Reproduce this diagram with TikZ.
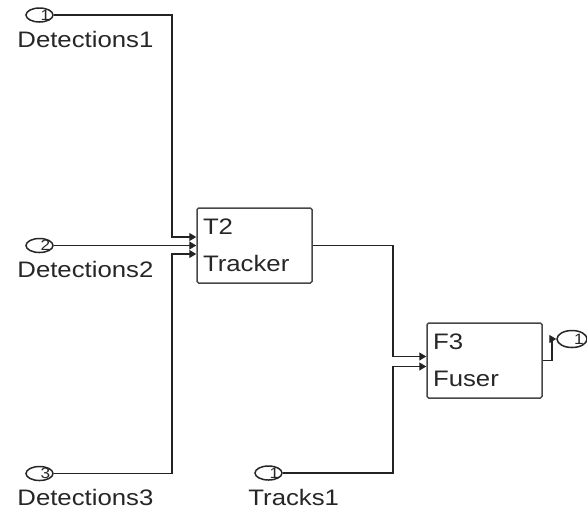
\documentclass[tikz,border=0pt]{standalone}
\usepackage{fontspec}
\setmainfont{Liberation Sans}[FakeStretch=1.15]
\usetikzlibrary{shapes.geometric, arrows.meta, positioning, calc}
\definecolor{wirec}{RGB}{35,35,35}
\definecolor{edgec}{RGB}{70,70,70}
\tikzset{
  block/.style={rectangle, rounded corners=0.8pt, draw=edgec, line width=0.75pt,
    minimum width=57.5pt, minimum height=37.5pt, text width=51.5pt,
    inner xsep=3pt, align=left, text=black!85,
    font=\fontsize{11.2pt}{18.5pt}\selectfont},
  inport/.style={ellipse, draw=black!85, line width=0.75pt, inner sep=0pt,
    minimum width=13.5pt, minimum height=7pt},
  outport/.style={inport, minimum width=15pt, minimum height=8.5pt},
  portnum/.style={inner sep=0pt, text=black!85, font=\fontsize{7.5pt}{8pt}\selectfont},
  portlabel/.style={anchor=base west, inner sep=0pt, text=black!85,
    font=\fontsize{11.2pt}{13pt}\selectfont},
  wire/.style={draw=wirec, line width=0.65pt, -{Triangle[length=3.5pt, width=4pt]}}
}
\begin{document}
\begin{tikzpicture}[x=0.5pt, y=-0.5pt]
  \useasboundingbox (0,0) rectangle (587,510);
  % blocks
  \node[block] (tracker) at (254.5,245.5) {T2\\Tracker};
  \node[block] (fuser) at (484.5,360.5) {F3\\Fuser};
  % input ports of the blocks
  \coordinate (tin1) at ($(tracker.west)+(0,-8.5)$);
  \coordinate (tin2) at (tracker.west);
  \coordinate (tin3) at ($(tracker.west)+(0,8.5)$);
  \coordinate (fin1) at ($(fuser.west)+(0,-4)$);
  \coordinate (fin2) at ($(fuser.west)+(0,6)$);
  % bend columns
  \coordinate (jtr) at (172,0);
  \coordinate (jfu) at (393,0);
  \coordinate (jout) at (552,0);
  % inports
  \foreach \i/\y in {1/15, 2/245.5, 3/473.5} {
    \node[inport] (det\i) at (39.5,\y) {};
    \node[portnum] (det\i-num) at ($(det\i)+(6,0)$) {\i};
    \node[portlabel] (det\i-lab) at ($(det\i)+(-22.5,32)$) {Detections\i};
  }
  \node[inport] (trk) at (268.5,473) {};
  \node[portnum] (trk-num) at ($(trk)+(6,0)$) {1};
  \node[portlabel] (trk-lab) at ($(trk)+(-20.5,32)$) {Tracks1};
  % outport
  \node[outport] (out) at (572,339) {};
  \node[portnum] (out-num) at ($(out)+(7,0)$) {1};
  % wires
  \draw[wire] (det1.east) -| (jtr |- tin1) -- (tin1);
  \draw[wire] (det2.east) -- (tin2);
  \draw[wire] (det3.east) -| (jtr |- tin3) -- (tin3);
  \draw[wire] (tracker.east) -| (jfu |- fin1) -- (fin1);
  \draw[wire] (trk.east) -| (jfu |- fin2) -- (fin2);
  \draw[wire] (fuser.east) -| (jout |- out.west) -- (out.west);
\end{tikzpicture}
\end{document}
